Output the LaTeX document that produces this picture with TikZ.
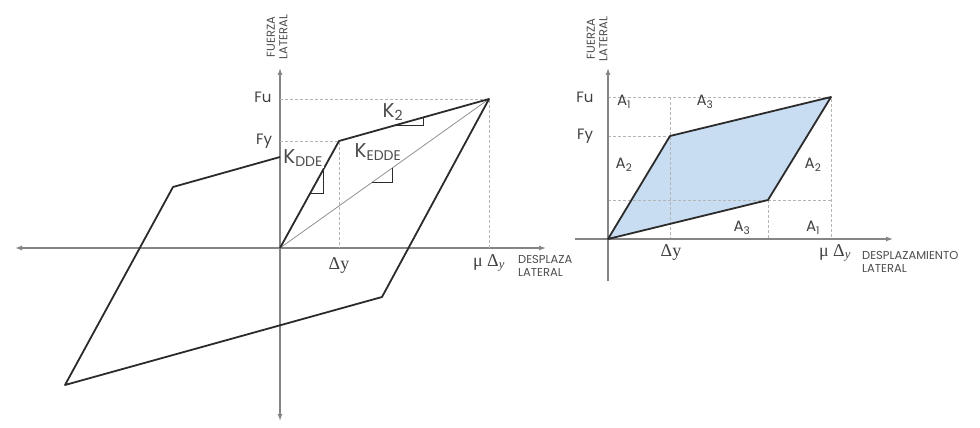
\documentclass[tikz,border=0pt]{standalone}
\usepackage{fontspec}
\setmainfont{Poppins}
\newfontfamily\greekfont{Liberation Serif}
\usetikzlibrary{calc,arrows.meta}
\definecolor{axisgray}{HTML}{858585}
\definecolor{curvecol}{HTML}{2B2B2B}
\definecolor{guidegray}{HTML}{B4B4B4}
\definecolor{loopblue}{HTML}{C8DDF1}
\newcommand{\mudy}{{\greekfont μ Δ}\textsubscript{\greekfont\itshape y}}
\newcommand{\dely}{{\greekfont Δy}}
\begin{document}
\begin{tikzpicture}[x=1pt,y=-1pt,
		axis/.style={draw=axisgray,line width=1.3pt,-{Latex[length=7pt,width=5pt]}},
		curve/.style={draw=curvecol,line width=1.8pt,line join=round},
		guide/.style={draw=guidegray,line width=0.8pt,dash pattern=on 3pt off 2pt},
		secant/.style={draw=axisgray!90,line width=0.8pt},
		slope/.style={draw=curvecol,line width=0.8pt},
		lbl/.style={inner sep=1pt,font=\fontsize{15}{15}\selectfont,text=black!75},
		glbl/.style={inner sep=1pt,font=\fontsize{18}{18}\selectfont,text=black!75},
		klbl/.style={inner sep=1pt,font=\fontsize{20}{20}\selectfont,text=black!70,fill=white},
		small/.style={inner sep=0pt,align=left,font=\fontsize{11.5}{12.5}\selectfont,text=black!70}]
	\useasboundingbox (0,0) rectangle (980,428);
	\coordinate (O) at (280,248);
	\coordinate (Y) at (339,141);
	\coordinate (P1) at (65,385);
	\coordinate (P2) at (173,187);
	\coordinate (P3) at (489,99);
	\coordinate (P4) at (382,297);
	\coordinate (Q) at (280,157);
	\coordinate (xl) at (15,248);
	\coordinate (xr) at (546,248);
	\coordinate (yt) at (280,68);
	\coordinate (yb) at (280,421);
	\draw[axis,{Latex[length=7pt,width=5pt]}-{Latex[length=7pt,width=5pt]}] (xl) -- (xr);
	\draw[axis,{Latex[length=7pt,width=5pt]}-{Latex[length=7pt,width=5pt]}] (yb) -- (yt);
	\draw[guide] (O |- P3) -- (P3) -- (P3 |- O);
	\draw[guide] (O |- Y) -- (Y) -- (Y |- O);
	\draw[secant] (O) -- (P3);
	\draw[curve] (Q) -- (P2) -- (P1) -- (P4) -- (P3) -- (Y) -- (O);
	\draw[slope] ($(Y)!0.36!(P3)$) -| ($(Y)!0.56!(P3)$);
	\draw[slope] ($(O)!0.51!(Y)$) -| ($(O)!0.73!(Y)$);
	\draw[slope] ($(O)!0.44!(P3)$) -| ($(O)!0.54!(P3)$);
	\node[lbl] (fu) at (263,97) {Fu};
	\node[lbl] (fy) at (264,141) {Fy};
	\node[klbl] (kdde) at (303,158) {K\textsubscript{DDE}};
	\node[klbl,fill=none] (kedde) at (378,152) {K\textsubscript{EDDE}};
	\node[klbl,fill=none] (k2) at (393,112) {K\textsubscript{2}};
	\node[glbl] (dy) at (339,265) {\dely};
	\node[glbl] (mdy) at (489,263) {\mudy};
	\node[small,anchor=west] (dl) at (518,266) {DESPLAZAMIENTO\\LATERAL};
	\node[small,rotate=90,align=center] (fl) at (277,37) {FUERZA\\LATERAL};
	\fill[white] (573,0) rectangle (980,428);
	\coordinate (R0) at (608,239);
	\coordinate (RY) at (670,136);
	\coordinate (RU) at (831,97);
	\coordinate (RL) at (768,200);
	\coordinate (rxl) at (575,239);
	\coordinate (rxr) at (893,239);
	\coordinate (ryt) at (608,68);
	\coordinate (ryb) at (608,281);
	\fill[loopblue] (R0) -- (RY) -- (RU) -- (RL) -- cycle;
	\draw[guide] (R0 |- RU) -- (RU) -- (RU |- R0);
	\draw[guide] (R0 |- RY) -- (RY);
	\draw[guide] (RY |- RU) -- (RY |- R0);
	\draw[guide] (R0 |- RL) -- (RU |- RL);
	\draw[guide] (RL) -- (RL |- R0);
	\draw[axis] (rxl) -- (rxr);
	\draw[axis] (ryb) -- (ryt);
	\draw[curve] (R0) -- (RY) -- (RU) -- (RL) -- cycle;
	\node[lbl] (rfu) at (585,97) {Fu};
	\node[lbl] (rfy) at (585,136) {Fy};
	\node[lbl] (a1t) at (624,102) {A\textsubscript{1}};
	\node[lbl] (a3t) at (705,102) {A\textsubscript{3}};
	\node[lbl] (a2l) at (624,165) {A\textsubscript{2}};
	\node[lbl] (a2r) at (813,165) {A\textsubscript{2}};
	\node[lbl] (a3b) at (742,228) {A\textsubscript{3}};
	\node[lbl] (a1b) at (813,228) {A\textsubscript{1}};
	\node[glbl] (rdy) at (671,252) {\dely};
	\node[glbl] (rmdy) at (835,253) {\mudy};
	\node[small,anchor=west] (rdl) at (862,262) {DESPLAZAMIENTO\\LATERAL};
	\node[small,rotate=90,align=center] (rfl) at (597,39) {FUERZA\\LATERAL};
\end{tikzpicture}
\end{document}
